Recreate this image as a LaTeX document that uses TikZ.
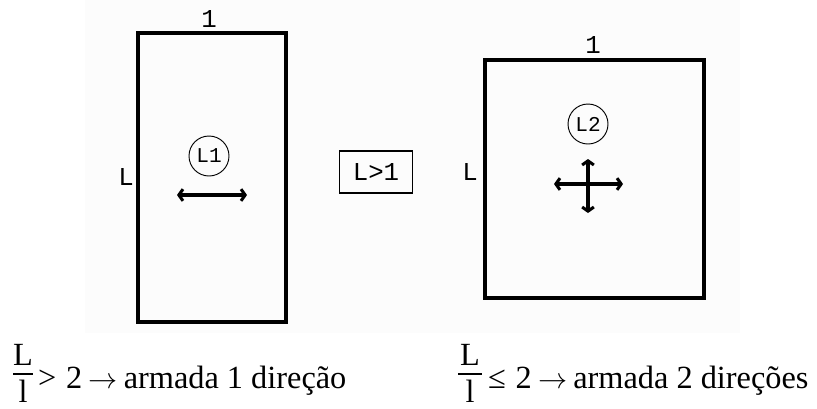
\documentclass[tikz,border=0pt]{standalone}
\usepackage{fontspec}
\setmainfont{Liberation Serif}
\newfontfamily\labelfont{Liberation Mono}
\usepackage{tikz}
\usetikzlibrary{positioning,arrows.meta,calc}

\begin{document}
\begin{tikzpicture}[x=0.03cm,y=-0.03cm,
    every node/.style={inner sep=0pt},
    slab/.style={line width=3.2pt},
    dimlabel/.style={font=\labelfont\fontsize{22}{22}\selectfont},
    slabname/.style={circle,draw,line width=0.8pt,minimum size=1.2cm,font=\labelfont\fontsize{18}{18}\selectfont},
    dirarrow/.style={line width=2.6pt,{Straight Barb[length=3.5pt,width=10pt]}-{Straight Barb[length=3.5pt,width=10pt]}},
    ratio/.style={font=\fontsize{27.6}{27.6}\selectfont}]
        \useasboundingbox (0,0) rectangle (817,408);
        \fill[black!1] (85,0) rectangle (740,333);
        % laje armada em 1 direcao
        \draw[slab] (138,33) rectangle (286,322);
        \node[dimlabel] (top1) at (209,19) {1};
        \node[dimlabel] (side1) at (126,177) {L};
        \node[slabname] (l1) at (209,156) {L1};
        \coordinate (a1w) at (177,195);
        \coordinate (a1e) at (247,195);
        \draw[dirarrow] (a1w) -- (a1e);
        % condicao
        \node[draw,line width=1pt,minimum width=2.19cm,minimum height=1.26cm,dimlabel] (cond) at (376,172) {L>1};
        % laje armada em 2 direcoes
        \draw[slab] (485,60) rectangle (704,298);
        \node[dimlabel] (top2) at (593,45) {1};
        \node[dimlabel] (side2) at (470,172) {L};
        \node[slabname] (l2) at (588,124) {L2};
        \coordinate (a2w) at (554,184);
        \coordinate (a2e) at (623,184);
        \coordinate (a2n) at (588,159);
        \coordinate (a2s) at (588,213);
        \draw[dirarrow] (a2w) -- (a2e);
        \draw[dirarrow] (a2n) -- (a2s);
        % relacoes
        \node[ratio] (num1) at (23,355) {L};
        \node[ratio] (den1) at (23,391) {l};
        \draw[line width=1.2pt] (13,374) -- (33,374);
        \node[ratio,anchor=base west] (txt1) at (38,388) {>\hspace{.3em}2\hspace{.2em}$\rightarrow$\hspace{.18em}armada 1 direção};
        \node[ratio] (num2) at (470,355) {L};
        \node[ratio] (den2) at (470,391) {l};
        \draw[line width=1.2pt] (458,374) -- (482,374);
        \node[ratio,anchor=base west] (txt2) at (488,388) {≤\hspace{.3em}2\hspace{.2em}$\rightarrow$\hspace{.18em}armada 2 direções};
    \end{tikzpicture}
\end{document}
